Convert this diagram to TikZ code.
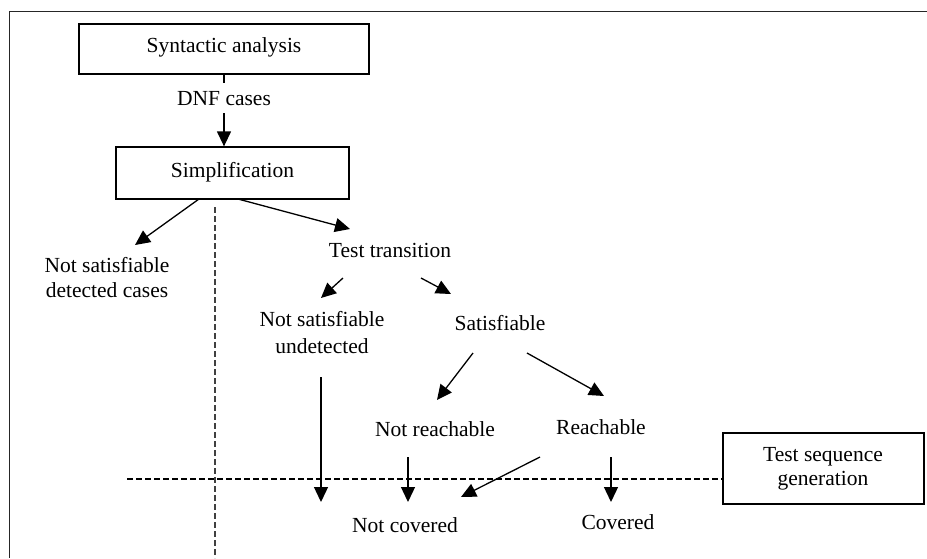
\documentclass[tikz,border=0pt]{standalone}
\usepackage{fontspec}
\setmainfont{Liberation Serif}
\usetikzlibrary{arrows.meta}

\begin{document}
\begin{tikzpicture}[x=1pt,y=-1pt,
  every node/.style={font=\fontsize{21.5}{26}\selectfont},
  lbl/.style={inner sep=0pt, anchor=base, align=center},
  procbox/.style={draw, line width=1.3pt, inner sep=0pt},
  arr/.style={line width=1.3pt, -{Triangle[length=15pt,width=14pt]}},
  sep/.style={line width=1.1pt, dash pattern=on 6pt off 3pt},
  frameline/.style={line width=1.8pt, black!85}]

\useasboundingbox (0,0) rectangle (927,558);

% outer frame
\draw[frameline] (927,11.5) -- (9.5,11.5) -- (9.5,558);

% process boxes
\node[procbox, minimum width=290pt, minimum height=50pt] (syn) at (224,49) {};
\node[lbl] (syntxt) at (224,52) {Syntactic analysis};
\node[procbox, minimum width=233pt, minimum height=52pt] (simp) at (232.5,173) {};
\node[lbl] (simptxt) at (232.5,177) {Simplification};
\node[procbox, minimum width=201pt, minimum height=71pt] (tsg) at (823.5,468.5) {};
\node[lbl] (tsgtxt1) at (823,461) {Test sequence};
\node[lbl] (tsgtxt2) at (823,485) {generation};

% outcome labels
\node[lbl] (nsd1) at (107,272) {Not satisfiable};
\node[lbl] (nsd2) at (107,297) {detected cases};
\node[lbl] (tt) at (390,257) {Test transition};
\node[lbl] (nsu1) at (322,326) {Not satisfiable};
\node[lbl] (nsu2) at (322,353) {undetected};
\node[lbl] (sat) at (500,330) {Satisfiable};
\node[lbl] (nr) at (435,436) {Not reachable};
\node[lbl] (r) at (601,434) {Reachable};
\node[lbl] (nc) at (405,532) {Not covered};
\node[lbl] (cov) at (618,529) {Covered};

% arrow end points
\coordinate (simpL) at (199,199);
\coordinate (simpR) at (238,199);
\coordinate (nsdIn) at (135,245);
\coordinate (ttIn) at (350,229);
\coordinate (ttOutL) at (343,278);
\coordinate (ttOutR) at (421,278);
\coordinate (nsuIn) at (321,298);
\coordinate (satIn) at (451,294);
\coordinate (satOutL) at (473,353);
\coordinate (satOutR) at (527,353);
\coordinate (nrIn) at (437,400);
\coordinate (rIn) at (604,396);
\coordinate (nsuOut) at (321,377);
\coordinate (nrOut) at (408,457);
\coordinate (rOutL) at (540,457);
\coordinate (rOutD) at (611,457);
\coordinate (ncInA) at (321,502);
\coordinate (ncInB) at (408,502);
\coordinate (ncInC) at (461,497);
\coordinate (covIn) at (611,502);

% phase separators
\coordinate (vTop) at (215,207);
\coordinate (vBot) at (215,558);
\coordinate (hLeft) at (127,479);
\draw[sep, black!75] (vTop) -- (vBot);
\draw[sep] (hLeft) -- (hLeft -| tsg.west);

% connectors
\draw[arr] (syn.south) -- (syn.south |- simp.north)
  node[pos=0.33, fill=white, inner sep=0pt, minimum height=30pt, font=\fontsize{21.5}{26}\selectfont] (dnf) {DNF cases};
\draw[arr] (simpL) -- (nsdIn);
\draw[arr] (simpR) -- (ttIn);
\draw[arr] (ttOutL) -- (nsuIn);
\draw[arr] (ttOutR) -- (satIn);
\draw[arr] (satOutL) -- (nrIn);
\draw[arr] (satOutR) -- (rIn);
\draw[arr] (nsuOut) -- (ncInA);
\draw[arr] (nrOut) -- (ncInB);
\draw[arr] (rOutL) -- (ncInC);
\draw[arr] (rOutD) -- (covIn);
\end{tikzpicture}
\end{document}
